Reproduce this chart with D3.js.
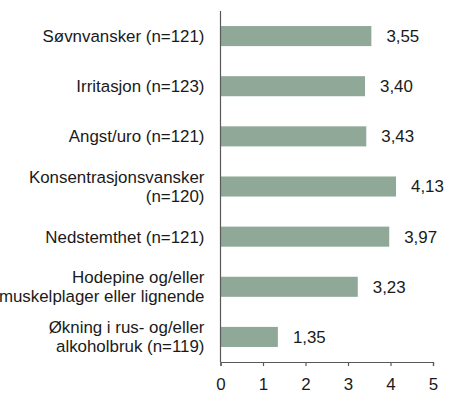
<!DOCTYPE html>
<html><head><meta charset="utf-8">
<script src="https://cdn.jsdelivr.net/npm/d3@7"></script>
<style>body{margin:0;background:#fff}svg{display:block}</style>
</head><body>
<script>
const categories = [
  ["Søvnvansker (n=121)"],
  ["Irritasjon (n=123)"],
  ["Angst/uro (n=121)"],
  ["Konsentrasjonsvansker", "(n=120)"],
  ["Nedstemthet (n=121)"],
  ["Hodepine og/eller", "muskelplager eller lignende"],
  ["Økning i rus- og/eller", "alkoholbruk (n=119)"]
];
const values = [3.55, 3.40, 3.43, 4.13, 3.97, 3.23, 1.35];
const valueLabels = ["3,55", "3,40", "3,43", "4,13", "3,97", "3,23", "1,35"];
const xTicks = [0, 1, 2, 3, 4, 5];

const W = 450, H = 406;
const margin = {left: 220.5, right: 17, top: 11, bottom: 44};
const svg = d3.select("body").append("svg").attr("width", W).attr("height", H);
const g = svg.append("g").attr("transform", `translate(${margin.left},${margin.top})`);
const iw = W - margin.left - margin.right, ih = H - margin.top - margin.bottom;

const x = d3.scaleLinear().domain([0, 5]).range([0, 212.5]);
const y = d3.scaleBand().domain(d3.range(values.length)).range([0, ih]).paddingInner(0.6).paddingOuter(0.3);

const font = "'Liberation Sans', Arial, sans-serif";
const fs = 16.9;
const axisColor = "#595959";

g.selectAll("rect.bar").data(values).join("rect")
  .attr("class", "bar")
  .attr("x", 0).attr("y", (d, i) => y(i))
  .attr("width", d => x(d)).attr("height", y.bandwidth())
  .attr("fill", "#8fa898");

g.selectAll("text.val").data(values).join("text")
  .attr("class", "val")
  .attr("x", d => x(d) + 15).attr("y", (d, i) => y(i) + y.bandwidth() / 2)
  .attr("dy", "0.35em")
  .attr("font-family", font).attr("font-size", fs).attr("fill", "#1a1a1a")
  .text((d, i) => valueLabels[i]);

const lh = 19;
categories.forEach((lines, i) => {
  const cy = y(i) + y.bandwidth() / 2;
  const t = g.append("text").attr("text-anchor", "end")
    .attr("font-family", font).attr("font-size", fs).attr("fill", "#1a1a1a");
  lines.forEach((ln, j) => {
    t.append("tspan").attr("x", -16)
      .attr("y", cy + (j - (lines.length - 1) / 2) * lh)
      .attr("dy", "0.35em").text(ln);
  });
});

// y axis line
g.append("line").attr("x1", 0).attr("x2", 0).attr("y1", 0).attr("y2", ih)
  .attr("stroke", axisColor).attr("stroke-width", 1.2);

const xa = g.append("g").attr("transform", `translate(0,${ih})`)
  .call(d3.axisBottom(x).tickValues(xTicks).tickSize(4).tickPadding(12).tickFormat(d3.format("d")));
xa.select(".domain").attr("stroke", axisColor).attr("stroke-width", 1.2);
xa.selectAll(".tick line").attr("stroke", axisColor).attr("stroke-width", 1.2);
xa.selectAll("text").attr("font-family", font).attr("font-size", fs).attr("fill", "#1a1a1a");
</script>
</body></html>
